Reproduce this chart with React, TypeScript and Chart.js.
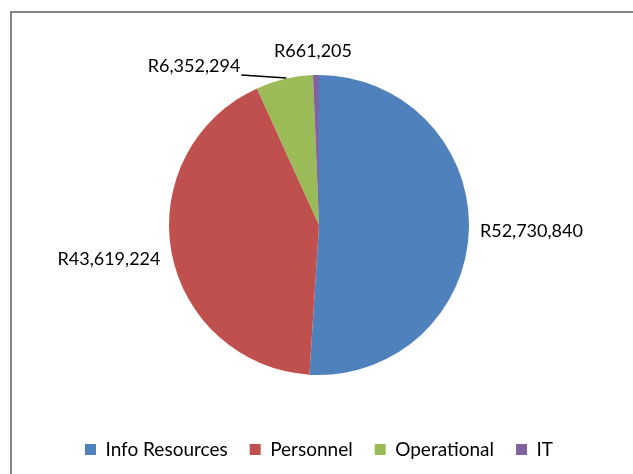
import React, { useEffect, useRef } from "react";
import { Chart, registerables } from "chart.js";

Chart.register(...registerables);

const categories = ["Info Resources", "Personnel", "Operational", "IT"];
const values = [52730840, 43619224, 6352294, 661205];
const valueLabels = ["R52,730,840", "R43,619,224", "R6,352,294", "R661,205"];
const colors = ["#4F81BD", "#C0504D", "#9BBB59", "#8064A2"];

const FONT = "Lato, 'Open Sans', sans-serif";

// label placement relative to the arc's outer mid point
const labelPlacement = [
  { dx: 11, dy: 1, align: "left", leader: false },
  { dx: -11, dy: 7, align: "right", leader: false },
  { dx: -44, dy: -13, align: "right", leader: true },
  { dx: -3, dy: -24, align: "center", leader: false },
];

const framePlugin = {
  id: "frame",
  beforeDraw(chart: any) {
    const ctx = chart.ctx;
    ctx.save();
    ctx.fillStyle = "#ffffff";
    ctx.fillRect(0, 0, chart.width, chart.height);
    ctx.strokeStyle = "#868686";
    ctx.lineWidth = 2;
    ctx.beginPath();
    ctx.moveTo(11, chart.height + 2);
    ctx.lineTo(11, 12);
    ctx.lineTo(chart.width + 2, 12);
    ctx.stroke();
    ctx.restore();
  },
};

const labelPlugin = {
  id: "outerLabels",
  afterDatasetsDraw(chart: any) {
    const ctx = chart.ctx;
    const meta = chart.getDatasetMeta(0);
    ctx.save();
    ctx.font = `18px ${FONT}`;
    ctx.fillStyle = "#000000";
    ctx.textBaseline = "middle";
    meta.data.forEach((arc: any, i: number) => {
      const p = arc.getProps(["x", "y", "startAngle", "endAngle", "outerRadius"], true);
      const mid = (p.startAngle + p.endAngle) / 2;
      const ex = p.x + Math.cos(mid) * p.outerRadius;
      const ey = p.y + Math.sin(mid) * p.outerRadius;
      const pl = labelPlacement[i];
      const lx = ex + pl.dx;
      const ly = ey + pl.dy;
      if (pl.leader) {
        ctx.strokeStyle = "#000000";
        ctx.lineWidth = 1.5;
        ctx.beginPath();
        ctx.moveTo(ex + 2, ey - 1);
        ctx.lineTo(lx + 1, ly + 9);
        ctx.stroke();
      }
      ctx.textAlign = pl.align;
      ctx.fillText(valueLabels[i], lx, ly);
    });
    ctx.restore();
  },
};

export default function App() {
  const ref = useRef<HTMLCanvasElement>(null);
  useEffect(() => {
    if (!ref.current) return;
    const chart = new Chart(ref.current, {
      type: "pie",
      data: {
        labels: categories,
        datasets: [
          {
            data: values,
            backgroundColor: colors,
            borderWidth: 0,
          },
        ],
      },
      options: {
        responsive: false,
        animation: false,
        radius: 150,
        layout: { padding: { left: 20, right: 15, top: 32, bottom: 5 } },
        plugins: {
          legend: {
            position: "bottom",
            labels: {
              boxWidth: 11,
              boxHeight: 11,
              padding: 22,
              color: "#000000",
              font: { family: FONT, size: 19 },
            },
          },
          tooltip: { enabled: false },
        },
      } as any,
      plugins: [framePlugin, labelPlugin],
    });
    return () => chart.destroy();
  }, []);
  return (
    <div style={{ position: "fixed", left: 0, top: 0, width: 633, height: 474, background: "#fff" }}>
      <canvas ref={ref} width={633} height={474} style={{ display: "block" }} />
    </div>
  );
}
